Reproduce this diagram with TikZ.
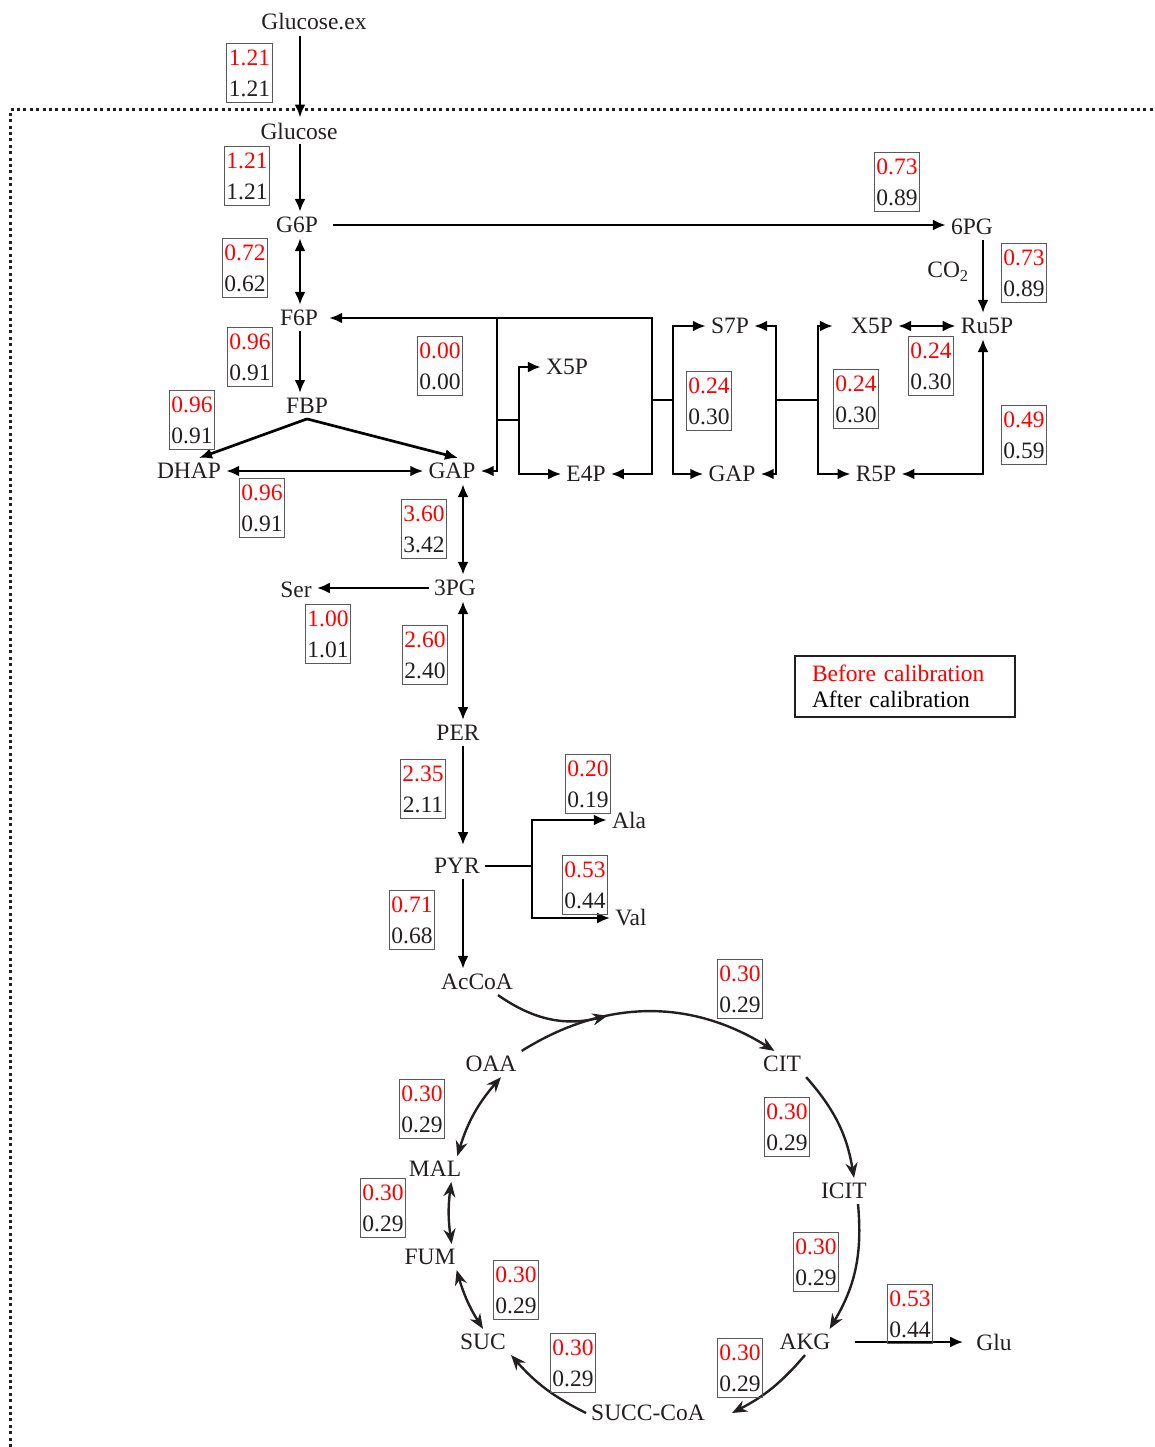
\documentclass[tikz,border=0pt]{standalone}
\usepackage{fontspec}
\setmainfont{Liberation Serif}
\usepackage{tikz}
\usetikzlibrary{arrows.meta,calc}
\definecolor{ink}{HTML}{231F20}

\begin{document}
\begin{tikzpicture}[
  x=1pt, y=1pt,
  font=\fontsize{23.5}{31}\selectfont,
  met/.style={inner sep=5pt, text=ink},
  flux/.style={draw=black!65, line width=1.1pt, align=center, inner xsep=2pt, inner ysep=6pt, text=ink},
  legend/.style={draw=ink, line width=1.6pt, align=left, text width=186pt, inner xsep=17pt, inner ysep=9pt, font=\fontsize{23.5}{26}\selectfont},
  link/.style={line width=2.7pt, draw=black},
  flow/.style={link, -{Latex[length=13pt,width=11pt]}},
  flows/.style={link, {Latex[length=13pt,width=11pt]}-{Latex[length=13pt,width=11pt]}},
  cyc/.style={line width=2.4pt, draw=ink, -{Stealth[length=15pt,width=12pt]}},
  cycs/.style={line width=2.4pt, draw=ink, {Stealth[length=15pt,width=12pt]}-{Stealth[length=15pt,width=12pt]}},
  border/.style={line width=3pt, dash pattern=on 3pt off 3.4pt, draw=ink}
]
\useasboundingbox (0,0) rectangle (1154,-1447);
\draw[border] (10,-1447) -- (10,-110) -- (1154,-110);

% glycolysis
\node[met] (gluex) at (314,-22) {Glucose.ex};
\node[met] (glc) at (299,-131) {Glucose};
\node[met] (g6p) at (297,-225) {G6P};
\node[met] (f6p) at (299,-318) {F6P};
\node[met] (fbp) at (307,-406) {FBP};
\node[met] (dhap) at (189,-471) {DHAP};
\node[met] (gap) at (452,-471) {GAP};
\node[met] (pg3) at (455,-588) {3PG};
\node[met] (ser) at (296,-590) {Ser};
\node[met] (per) at (458,-733) {PER};
\node[met] (pyr) at (457,-866) {PYR};
\node[met] (ala) at (629,-820) {Ala};
\node[met] (val) at (631,-918) {Val};
\node[met] (accoa) at (477,-982) {AcCoA};

% pentose phosphate
\node[met] (pg6) at (972,-227) {6PG};
\node[met] (co2) at (948,-272) {CO\textsubscript{2}};
\node[met] (ru5p) at (987,-326) {Ru5P};
\node[met] (x5pb) at (872,-326) {X5P};
\node[met] (r5p) at (876,-474) {R5P};
\node[met] (s7p) at (730,-326) {S7P};
\node[met] (gapb) at (732,-474) {GAP};
\node[met] (e4p) at (586,-474) {E4P};
\node[met] (x5pa) at (567,-367) {X5P};

% TCA cycle
\node[met] (oaa) at (491,-1064) {OAA};
\node[met] (cit) at (782,-1064) {CIT};
\node[met] (icit) at (844,-1191) {ICIT};
\node[met] (akg) at (805,-1342) {AKG};
\node[met] (glu) at (994,-1342) {Glu};
\node[met] (succoa) at (648,-1413) {SUCC-CoA};
\node[met] (suc) at (483,-1342) {SUC};
\node[met] (fum) at (430,-1257) {FUM};
\node[met] (mal) at (435,-1169) {MAL};

\coordinate (upx) at (300,0);
\coordinate (lox) at (463,0);
\coordinate (rux) at (983,0);
\coordinate (pyrj) at (532,-866);
\coordinate (tkd) at (818,-400);
\coordinate (tkc) at (776,-400);
\coordinate (tab) at (673,-400);
\coordinate (taa) at (652,-400);
\coordinate (tkf) at (497,-420);
\coordinate (tke) at (519,-420);

\draw[flow] (gluex.south -| upx) -- (glc.north -| upx);
\draw[flow] (glc.south -| upx) -- (g6p.north -| upx);
\draw[flows] (g6p.south -| upx) -- (f6p.north -| upx);
\draw[flow] (f6p.south -| upx) -- (fbp.north -| upx);
\draw[flow] (fbp.south) -- ([xshift=10pt]dhap.north);
\draw[flow] (fbp.south) -- ([xshift=6pt]gap.north);
\draw[flows] (dhap.east) -- (gap.west);
\draw[flows] (gap.south -| lox) -- (pg3.north -| lox);
\draw[flow] (pg3.west) -- (ser.east |- pg3.west);
\draw[flows] (pg3.south -| lox) -- (per.north -| lox);
\draw[flow] (per.south -| lox) -- ([yshift=8pt]pyr.north -| lox);
\draw[flow] (pyr.south -| lox) -- (accoa.north -| lox);
\draw[link] (pyr.east) -- (pyrj);
\draw[flow] (pyrj) |- (ala.west);
\draw[flow] (pyrj) |- (val.west);

\draw[flow] ([xshift=10pt]g6p.east) -- (pg6.west |- g6p.east);
\draw[flow] (pg6.south -| rux) -- (ru5p.north -| rux);
\draw[flows] (x5pb.east) -- (ru5p.west);
\draw[flows] (r5p.east) -| (ru5p.south -| rux);
\draw[flow] (tkd) |- ([xshift=-13pt]x5pb.west);
\draw[flow] (tkd) |- (r5p.west);
\draw[link] (tkc) -- (tkd);
\draw[flow] (tkc) |- (s7p.east);
\draw[flow] (tkc) |- (gapb.east);
\draw[flow] (tab) |- (s7p.west);
\draw[flow] (tab) |- (gapb.west);
\draw[link] (taa) -- (tab);
\draw[flow] (taa) |- ([xshift=6pt]f6p.east);
\draw[flow] (taa) |- (e4p.east);
\draw[flow] (tkf) |- (gap.east);
\draw[link] (tkf) -- (tkf |- f6p.east);
\draw[link] (tkf) -- (tke);
\draw[flow] (tke) |- (x5pa.west);
\draw[flow] (tke) |- (e4p.west);

\draw[cyc] (oaa.north east) to[bend left=32] coordinate[pos=0.34] (tcain) (cit.120);
\draw[cyc] ([xshift=21pt]accoa.south) to[out=-35, in=194] (tcain);
\draw[cyc] (cit.south east) to[bend left=16] ([xshift=10pt]icit.north);
\draw[cyc] ([xshift=14pt]icit.south) to[bend left=18] ([xshift=-6pt]akg.north east);
\draw[cyc] (akg.south) to[bend left=11] ([xshift=22pt]succoa.east);
\draw[cyc] (succoa.west) to[bend left=11] (suc.south east);
\draw[cycs] (suc.north) to[bend left=8] ([xshift=-4pt]fum.south east);
\draw[cycs] ([xshift=-9pt]fum.north east) to[bend left=8] ([xshift=-15pt]mal.south east);
\draw[cycs] ([xshift=-9pt]mal.north east) to[bend left=12] ([xshift=10pt]oaa.south);
\draw[flow, shorten <=19pt, shorten >=8pt] (akg.east) -- (glu.west);

% fluxes
\node[flux] (vglcex) at (249.5,-73) {\textcolor{red}{1.21}\\1.21};
\node[flux] (vglc) at (247,-176) {\textcolor{red}{1.21}\\1.21};
\node[flux] (vpgi) at (245,-268) {\textcolor{red}{0.72}\\0.62};
\node[flux] (vpfk) at (250,-357) {\textcolor{red}{0.96}\\0.91};
\node[flux] (vald) at (192,-420) {\textcolor{red}{0.96}\\0.91};
\node[flux] (vtpi) at (262,-508) {\textcolor{red}{0.96}\\0.91};
\node[flux] (vtk0) at (440,-366) {\textcolor{red}{0.00}\\0.00};
\node[flux] (vgap) at (424,-529) {\textcolor{red}{3.60}\\3.42};
\node[flux] (vser) at (328,-634) {\textcolor{red}{1.00}\\1.01};
\node[flux] (vpgm) at (425,-655) {\textcolor{red}{2.60}\\2.40};
\node[flux] (vpyk) at (423,-789) {\textcolor{red}{2.35}\\2.11};
\node[flux] (vala) at (588,-784) {\textcolor{red}{0.20}\\0.19};
\node[flux] (vval) at (585,-885) {\textcolor{red}{0.53}\\0.44};
\node[flux] (vpdh) at (412,-920) {\textcolor{red}{0.71}\\0.68};
\node[flux] (vzwf) at (897,-182) {\textcolor{red}{0.73}\\0.89};
\node[flux] (vgnd) at (1024,-273) {\textcolor{red}{0.73}\\0.89};
\node[flux] (vrpe) at (931,-366) {\textcolor{red}{0.24}\\0.30};
\node[flux] (vtal) at (709,-401) {\textcolor{red}{0.24}\\0.30};
\node[flux] (vtk1) at (856,-399) {\textcolor{red}{0.24}\\0.30};
\node[flux] (vrpi) at (1024,-435) {\textcolor{red}{0.49}\\0.59};
\node[flux] (vcs) at (740,-989) {\textcolor{red}{0.30}\\0.29};
\node[flux] (vacn) at (787,-1127) {\textcolor{red}{0.30}\\0.29};
\node[flux] (vicd) at (816,-1262) {\textcolor{red}{0.30}\\0.29};
\node[flux] (vglu) at (910,-1314) {\textcolor{red}{0.53}\\0.44};
\node[flux] (vakg) at (740,-1368) {\textcolor{red}{0.30}\\0.29};
\node[flux] (vsuc) at (573,-1363) {\textcolor{red}{0.30}\\0.29};
\node[flux] (vsdh) at (516,-1290) {\textcolor{red}{0.30}\\0.29};
\node[flux] (vfum) at (383,-1208) {\textcolor{red}{0.30}\\0.29};
\node[flux] (vmdh) at (422,-1109) {\textcolor{red}{0.30}\\0.29};

\node[legend] (key) at (905,-686.5) {\textcolor{red}{Before calibration}\\After calibration};
\end{tikzpicture}
\end{document}
